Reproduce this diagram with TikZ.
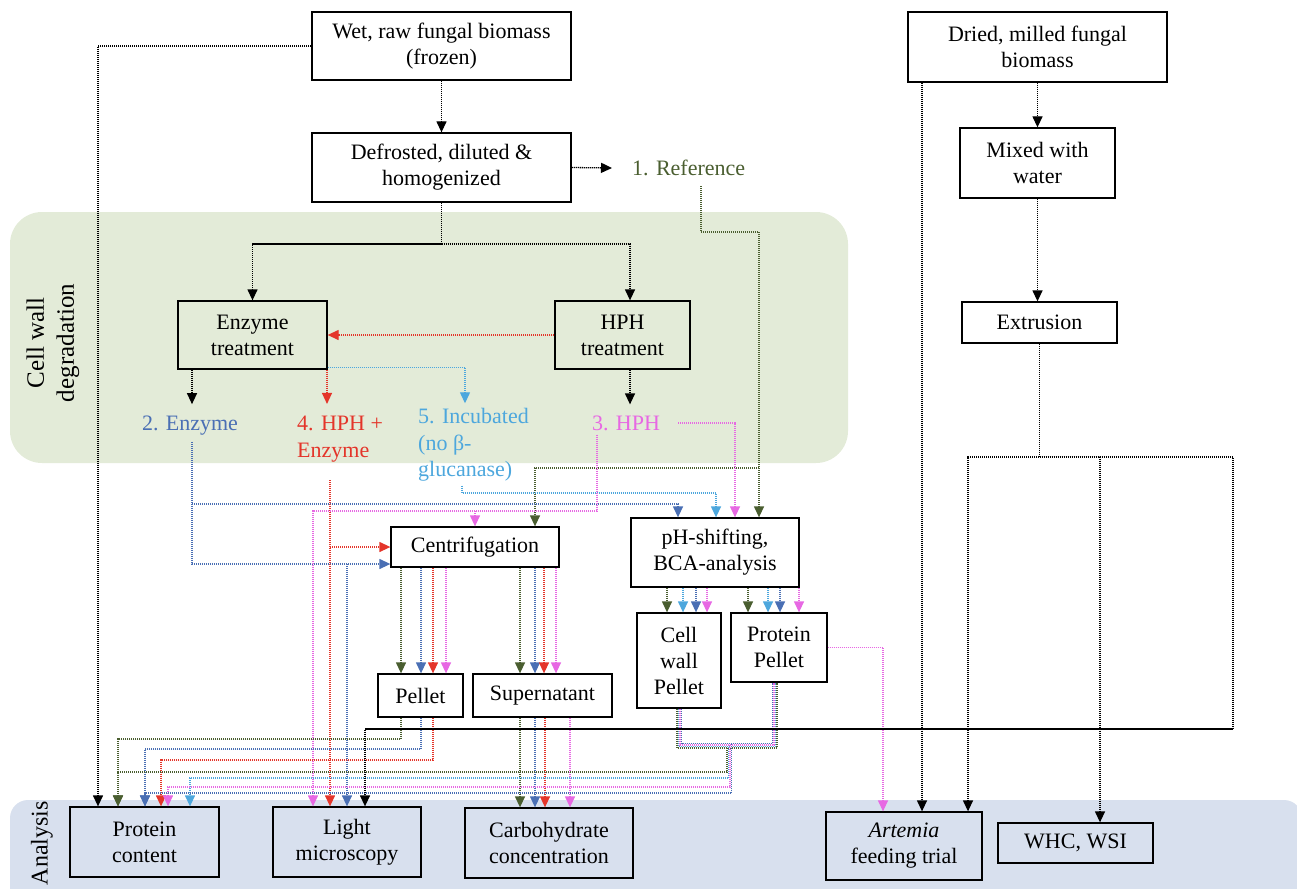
\documentclass[tikz,border=0pt]{standalone}
\usepackage{fontspec}
\setmainfont{Liberation Serif}
\usetikzlibrary{arrows.meta}

\definecolor{cellgreen}{HTML}{E3EBD8}
\definecolor{anablue}{HTML}{D8E0EE}
\definecolor{refcol}{HTML}{4A5E30}
\definecolor{enzcol}{HTML}{4A6FB4}
\definecolor{hphenzcol}{HTML}{E4352A}
\definecolor{inccol}{HTML}{4DA7DD}
\definecolor{hphcol}{HTML}{E768E3}

\begin{document}
\begin{tikzpicture}[x=1pt,y=-1pt,
    box/.style={draw,line width=1.3pt,align=center,inner sep=0pt,font=\fontsize{22}{26}\selectfont},
    treat/.style={font=\fontsize{22}{26.5}\selectfont,align=left,inner sep=0pt},
    flow/.style={line width=1.3pt,dash pattern=on 1.1pt off 0.9pt},
    into/.style={flow,-{Triangle[length=11pt,width=10pt]}}]
  \useasboundingbox (0,0) rectangle (1297,888);
  %% shaded regions
  \fill[cellgreen,rounded corners=32pt] (10,212) rectangle (848,463);
  \fill[anablue,rounded corners=18pt] (10,800) rectangle (1302,930);
  \node[rotate=90,align=center,font=\fontsize{25}{30}\selectfont] (cwlab) at (53,343) {Cell wall\\degradation};
  \node[rotate=90,font=\fontsize{24}{28}\selectfont] (analab) at (42,843) {Analysis};

  %% process boxes
  \node[box,minimum width=259pt,minimum height=68pt] (wet) at (441.5,46) {Wet, raw fungal biomass\\(frozen)};
  \node[box,minimum width=259pt,minimum height=69pt] (defr) at (441.5,167.5) {Defrosted, diluted \&\\homogenized};
  \node[box,minimum width=259pt,minimum height=70pt] (dry) at (1037.5,47) {Dried, milled fungal\\biomass};
  \node[box,minimum width=155pt,minimum height=70pt] (mix) at (1037.5,163) {Mixed with\\water};
  \node[box,minimum width=155pt,minimum height=41pt] (extr) at (1039.5,322.5) {Extrusion};
  \node[box,minimum width=149pt,minimum height=68pt] (enz) at (252.5,335) {Enzyme\\treatment};
  \node[box,minimum width=135pt,minimum height=68pt] (hph) at (622.5,335) {HPH\\treatment};
  \node[box,minimum width=168pt,minimum height=40pt] (cent) at (475,547) {Centrifugation};
  \node[box,minimum width=168pt,minimum height=69pt] (ph) at (715,552.5) {pH-shifting,\\BCA-analysis};
  \node[box,minimum width=84pt,minimum height=95pt] (cwp) at (679,660.5) {Cell\\wall\\Pellet};
  \node[box,minimum width=96pt,minimum height=69pt] (pp) at (779,647.5) {Protein\\Pellet};
  \node[box,minimum width=85pt,minimum height=43pt] (pel) at (420.5,695.5) {Pellet};
  \node[box,minimum width=139pt,minimum height=43pt] (sup) at (542.5,695.5) {Supernatant};
  %% analysis boxes
  \node[box,minimum width=149pt,minimum height=70pt] (pc) at (144.5,842) {Protein\\content};
  \node[box,minimum width=148pt,minimum height=70pt] (lm) at (347,842) {Light\\microscopy};
  \node[box,minimum width=168pt,minimum height=70pt] (carb) at (549,843) {Carbohydrate\\concentration};
  \node[box,minimum width=156pt,minimum height=68pt] (art) at (904,846) {\textit{Artemia}\\feeding trial};
  \node[box,minimum width=155pt,minimum height=40pt] (whc) at (1075.5,843) {WHC, WSI};

  %% treatment labels
  \node[treat,text=refcol,anchor=west] (ref) at (632,168) {1. Reference};
  \node[treat,text=enzcol] (lenz) at (190,426) {2. Enzyme};
  \node[treat,text=hphenzcol,anchor=west] (lhe) at (297,439) {4. HPH +\\Enzyme};
  \node[treat,text=inccol,anchor=west] (linc) at (418,445) {5. Incubated\\(no β-\\glucanase)};
  \node[treat,text=hphcol] (lhph) at (626,423) {3. HPH};

  %% raw biomass
  \draw[into] (wet) -- (defr);
  \draw[into] (wet.west) -| (98,0 |- pc.north);
  \draw[into] (defr.east) -- ([xshift=-20pt]ref.west);
  \draw[flow] (defr.south) -- (441.5,244);
  \draw[into] (441.5,244) -| (enz.north);
  \draw[into] (441.5,244) -| (630,0 |- hph.north);

  %% cell wall degradation
  \draw[into,hphenzcol] (hph.west) -- (enz.east);
  \draw[into,shorten >=12pt] (192,0 |- enz.south) -- (192,0 |- lenz.north);
  \draw[into,hphenzcol,shorten >=12pt] (327,0 |- enz.south) -- (327,0 |- lhe.north);
  \draw[into,inccol,shorten >=5pt] ([yshift=2pt]enz.south east) -| (465,0 |- linc.north);
  \draw[into,shorten >=11pt] (630,0 |- hph.south) -- (630,0 |- lhph.north);

  %% treatments into centrifugation and pH-shifting
  \draw[into,refcol,shorten <=10pt] (701,0 |- ref.south) |- (759,232) -- (759,0 |- ph.north);
  \draw[into,refcol] (759,468) -| (535,0 |- cent.north);
  \draw[into,enzcol,shorten <=6pt] (192,0 |- lenz.south) |- ([yshift=-17pt]cent.west);
  \draw[into,enzcol] (192,504) -| (678,0 |- ph.north);
  \draw[into,enzcol] (347,564) -- (347,0 |- lm.north);
  \draw[into,hphenzcol,shorten <=18pt] (330,0 |- lhe.south) -- (330,0 |- lm.north);
  \draw[into,hphenzcol] (330,547) -- (cent.west);
  \draw[into,inccol,shorten <=4pt] (462,0 |- linc.south) -- (462,493) -| (716,0 |- ph.north);
  \draw[into,hphcol,shorten <=4pt] (597,0 |- lhph.south) -- (597,511) -| (313,0 |- lm.north);
  \draw[into,hphcol] (475,511) -- (cent.north);
  \draw[into,hphcol] ([xshift=18pt]lhph.east) -| (735,0 |- ph.north);

  %% fractions
  \foreach \x/\c in {401/refcol,421/enzcol,433/hphenzcol,446/hphcol}
    \draw[into,\c] (\x,0 |- cent.south) -- (\x,0 |- pel.north);
  \foreach \x/\c in {520/refcol,535/enzcol,544/hphenzcol,556/hphcol}
    \draw[into,\c] (\x,0 |- cent.south) -- (\x,0 |- sup.north);
  \foreach \x/\c in {667/refcol,683/inccol,696/enzcol,707/hphcol}
    \draw[into,\c] (\x,0 |- ph.south) -- (\x,0 |- cwp.north);
  \foreach \x/\c in {748/refcol,768/inccol,780/enzcol,799/hphcol}
    \draw[into,\c] (\x,0 |- ph.south) -- (\x,0 |- pp.north);

  %% to analysis
  \foreach \x/\c in {520/refcol,535/enzcol,545/hphenzcol,570/hphcol}
    \draw[into,\c] (\x,0 |- sup.south) -- (\x,0 |- carb.north);
  \draw[into,refcol] (401,0 |- pel.south) |- (118,739) -- (118,0 |- pc.north);
  \draw[into,enzcol] (421,0 |- pel.south) |- (145,749) -- (145,0 |- pc.north);
  \draw[into,hphenzcol] (433,0 |- pel.south) |- (161,760) -- (161,0 |- pc.north);
  \foreach \c/\o/\yy/\xx in {refcol/0/772/118,inccol/1.5/778/190,hphcol/3/787/168,enzcol/4.5/793/145}{
    \draw[flow,\c] (677+\o,0 |- cwp.south) -- (677+\o,748-\o) -| (777-\o,0 |- pp.south);
    \draw[into,\c] (727+\o,748-\o) |- (\xx,\yy) -- (\xx,0 |- pc.north);
  }
  \draw[into,hphcol] (pp.east) -| (883,0 |- art.north);

  %% dried biomass
  \draw[into] (922,0 |- dry.south) -- (922,0 |- art.north);
  \draw[into] (dry) -- (mix);
  \draw[into] (mix.south) -- (mix.south |- extr.north);
  \draw[into] (extr.south) |- (968,457) -- (968,0 |- art.north);
  \draw[into] (extr.south |- 0,457) -| (1100,0 |- whc.north);
  \draw[into] (extr.south |- 0,457) -| (1233,729) -| (365,0 |- lm.north);
\end{tikzpicture}
\end{document}
